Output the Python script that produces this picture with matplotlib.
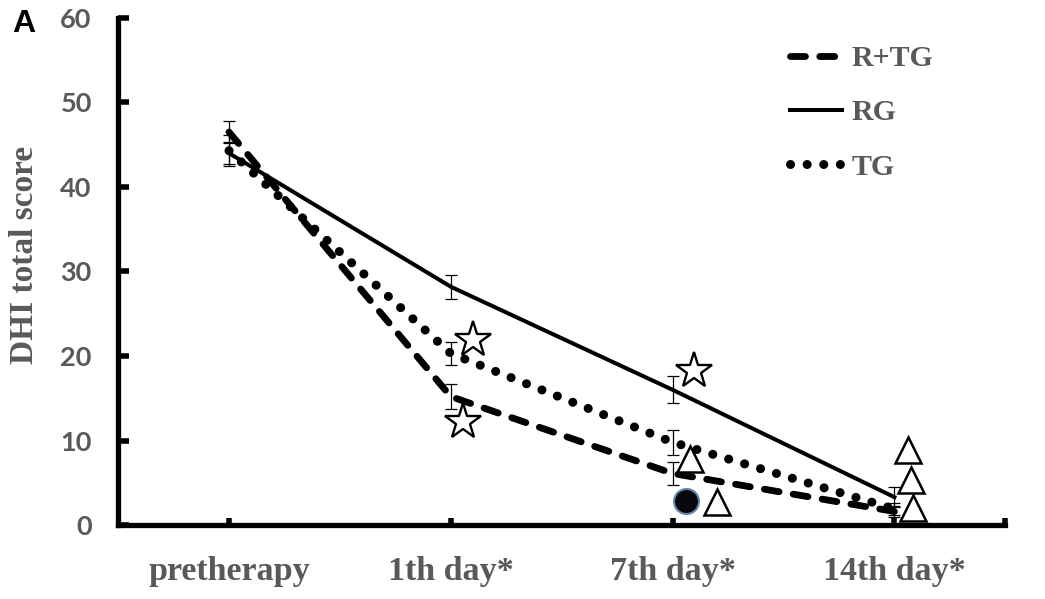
import matplotlib.pyplot as plt
from matplotlib.ticker import MultipleLocator, FixedLocator

categories = ['pretherapy', '1th day*', '7th day*', '14th day*']

rtg_mean = [46.5, 15.2, 6.1, 1.6]
rtg_err = [1.3, 1.5, 1.4, 0.6]
rg_mean = [44.0, 28.2, 16.0, 3.3]
rg_err = [1.3, 1.4, 1.6, 1.2]
tg_mean = [44.3, 20.3, 9.8, 1.9]
tg_err = [1.8, 1.4, 1.5, 0.7]

# significance markers (x in category units, y in score)
star_x = [1.10, 1.055, 2.095]
star_y = [21.9, 12.2, 18.2]
tri_x = [2.08, 2.20, 3.06, 3.075, 3.085]
tri_y = [7.8, 2.7, 8.9, 5.3, 2.0]
dot_x = [2.06]
dot_y = [2.8]

gray = '#595959'
xs = list(range(len(categories)))

fig = plt.figure(figsize=(10.45, 5.99), dpi=100)
ax = fig.add_axes([0.113, 0.1235, 0.849, 0.8465])

for m, e in [(rtg_mean, rtg_err), (rg_mean, rg_err), (tg_mean, tg_err)]:
    ax.errorbar(xs, m, yerr=e, fmt='none', ecolor='black', elinewidth=0.9,
                capsize=4.5, capthick=0.9, zorder=2)

l1, = ax.plot(xs, rtg_mean, color='black', lw=4.9, linestyle=(0, (2.2, 2.1)),
              dash_capstyle='round', solid_capstyle='round', label='R+TG', zorder=3)
l2, = ax.plot(xs, rg_mean, color='black', lw=2.9, linestyle='-', label='RG', zorder=3)
l3, = ax.plot(xs, tg_mean, color='black', lw=6.5, linestyle=(0, (0.01, 1.83)),
              dash_capstyle='round', label='TG', zorder=3)

ax.plot(star_x, star_y, linestyle='none', marker='*', markersize=27,
        markerfacecolor='white', markeredgecolor='black', markeredgewidth=1.7, zorder=4)
ax.plot(tri_x, tri_y, linestyle='none', marker='^', markersize=19,
        markerfacecolor='white', markeredgecolor='black', markeredgewidth=1.8, zorder=4)
ax.plot(dot_x, dot_y, linestyle='none', marker='o', markersize=18,
        markerfacecolor='#08080f', markeredgecolor='#6a88a8', markeredgewidth=1.5, zorder=4)

ax.set_xlim(-0.5, 3.5)
ax.set_ylim(0, 60)

for side in ['top', 'right']:
    ax.spines[side].set_visible(False)
for side in ['left', 'bottom']:
    ax.spines[side].set_linewidth(3.8)

ax.yaxis.set_major_locator(MultipleLocator(10))
ax.xaxis.set_major_locator(FixedLocator(xs))
ax.xaxis.set_minor_locator(FixedLocator([3.5]))
ax.set_xticklabels(categories)

ax.tick_params(axis='y', direction='in', length=8, width=4, pad=19,
               labelsize=19.5, labelcolor=gray)
ax.tick_params(axis='x', which='both', direction='in', length=5, width=4, pad=22,
               labelcolor=gray)
for lab in ax.get_yticklabels():
    lab.set_fontfamily('Lato')
    lab.set_fontweight('bold')
for lab in ax.get_xticklabels():
    lab.set_fontfamily('Liberation Serif')
    lab.set_fontweight('bold')
    lab.set_fontsize(24.5)

fig.text(25 / 1045, 1 - 255 / 599, 'DHI total score', rotation=90,
         fontfamily='Liberation Serif', fontweight='bold', fontsize=24,
         color=gray, ha='center', va='center')

fig.text(0.012, 0.96, 'A', fontfamily='Liberation Sans', fontweight='bold',
         fontsize=23, color='black', va='center')

leg = ax.legend(handles=[l1, l2, l3], loc='upper left',
                bbox_to_anchor=(790 / 1045, 1 - 45 / 599), bbox_transform=fig.transFigure,
                frameon=False, borderpad=0, borderaxespad=0,
                handlelength=1.75, handletextpad=0.3, labelspacing=0.92,
                prop={'family': 'Liberation Serif', 'weight': 'bold', 'size': 21.5})
for t in leg.get_texts():
    t.set_color(gray)

fig.savefig('out.png', dpi=100)
